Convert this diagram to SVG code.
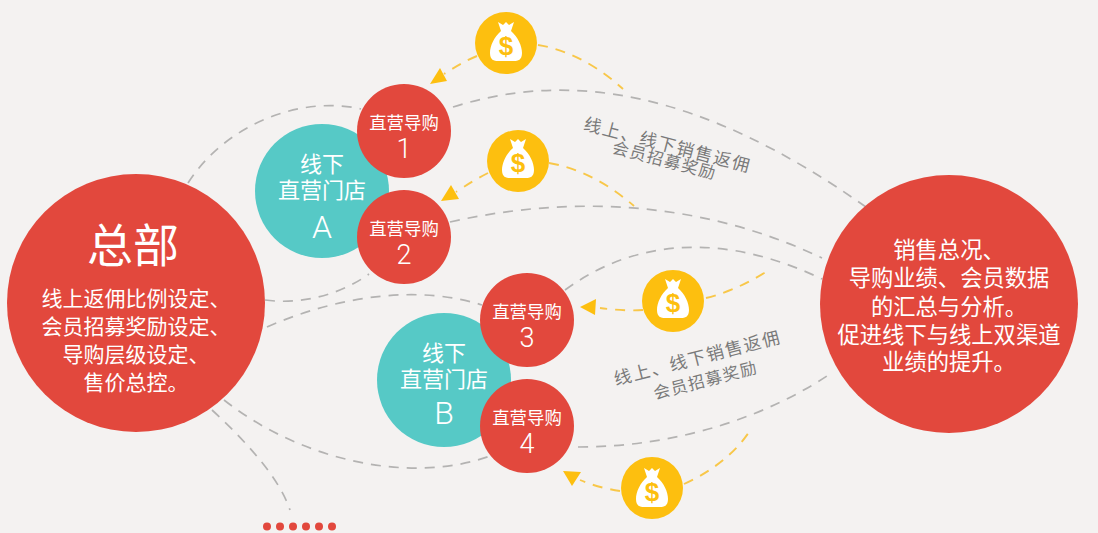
<svg xmlns="http://www.w3.org/2000/svg" xmlns:xlink="http://www.w3.org/1999/xlink" width="1098" height="533" viewBox="0 0 1098 533">
<style>
text{font-family:"Liberation Sans","Noto Sans CJK SC",sans-serif;text-anchor:middle;fill:#fff;font-weight:400}
.red{fill:#e2483d}.teal{fill:#56c9c6}.gold{fill:#fdbf0f}
.g{fill:none;stroke:#b4b3b2;stroke-width:1.7;stroke-dasharray:10 8}
.y{fill:none;stroke:#f8c749;stroke-width:1.9;stroke-dasharray:10 8}
.ah{fill:#fdbf0f}
.s{font-size:17.4px}.t{font-size:22px}.b{font-size:21px}.r{font-size:22.3px}
.n{font-family:Roboto,sans-serif;font-weight:300;font-size:27px}
.l{font-family:Roboto,sans-serif;font-weight:300;font-size:32px}
.rot1{fill:#7a7a7a;font-size:17.5px;letter-spacing:1.6px}
.rot2{fill:#7a7a7a;font-size:16.5px;letter-spacing:1.3px}
.usd{fill:#fdbf0f;font-family:"Liberation Sans",sans-serif;font-weight:700;font-size:26px}
</style>
<defs>
<g id="bag">
<path fill="#fff" d="M-8,-20 L-3,-17 L0,-20 L3,-17 L8,-20 L5,-11 C12,-5 16,4 16,11 C16,18 12,19 8,19 L-8,19 C-12,19 -16,18 -16,11 C-16,4 -12,-5 -5,-11 Z"/>
<text class="usd" x="0" y="13">$</text>
</g>
</defs>
<rect width="1098" height="533" fill="#f4f2f1"/>
<g id="connectors">
<path class="g" d="M188,183 C225,125 300,95 361,109"/>
<path class="g" d="M453,107 C570,70 700,90 866,207"/>
<path class="g" d="M450,222 C570,195 700,200 822,258"/>
<path class="g" d="M565,290 C640,235 730,235 822,279"/>
<path class="g" d="M265,300 C300,305 340,295 369,274"/>
<path class="g" d="M267,327 C340,295 420,285 482,305"/>
<path class="g" d="M224,400 C300,460 410,485 490,456"/>
<path class="g" d="M212,410 C250,445 280,480 290,510"/>
<path class="g" d="M578,447 C680,447 770,415 833,372"/>
<path class="y" d="M477,56 C465,61 455,67 444,74"/>
<path class="y" d="M538,45 C570,50 600,68 623,89"/>
<path class="y" d="M488,173 C478,178 468,184 456,192"/>
<path class="y" d="M549,163 C580,168 610,185 634,206"/>
<path class="y" d="M643,310 C630,311 615,310 600,308"/>
<path class="y" d="M706,298 C730,292 750,282 769,270"/>
<path class="y" d="M620,491 C607,489 594,486 580,480"/>
<path class="y" d="M684,484 C715,470 738,450 751,429"/>
<polygon class="ah" points="430,84 440,68 447,81"/>
<polygon class="ah" points="441,201 451,185 459,199"/>
<polygon class="ah" points="580,307 596,299 595,315"/>
<polygon class="ah" points="563,471 581,472 572,486"/>
</g>
<g id="store-a"><circle class="teal" cx="322" cy="191" r="67"/><text class="t" x="322" y="172">线下</text><text class="t" x="322" y="198">直营门店</text><text class="l" x="322" y="238">A</text></g>
<g id="store-b"><circle class="teal" cx="444" cy="380" r="67"/><text class="t" x="444" y="361">线下</text><text class="t" x="444" y="387">直营门店</text><text class="l" x="444" y="424">B</text></g>
<g id="hq"><circle class="red" cx="136" cy="303" r="129"/>
<text x="133" y="262" font-size="46">总部</text>
<text class="b" x="136" y="306">线上返佣比例设定、</text>
<text class="b" x="136" y="334">会员招募奖励设定、</text>
<text class="b" x="136" y="362">导购层级设定、</text>
<text class="b" x="136" y="390">售价总控。</text></g>
<g id="analysis"><circle class="red" cx="949" cy="304" r="129"/>
<text class="r" x="949" y="258">销售总况、</text>
<text class="r" x="949" y="286">导购业绩、会员数据</text>
<text class="r" x="949" y="315">的汇总与分析。</text>
<text class="r" x="949" y="343">促进线下与线上双渠道</text>
<text class="r" x="949" y="370">业绩的提升。</text></g>
<g id="guide-1"><circle class="red" cx="404" cy="131" r="47"/><text class="s" x="404" y="129">直营导购</text><text class="n" x="404" y="158">1</text></g>
<g id="guide-2"><circle class="red" cx="404" cy="237" r="47"/><text class="s" x="404" y="235">直营导购</text><text class="n" x="404" y="264">2</text></g>
<g id="guide-3"><circle class="red" cx="527" cy="320" r="47"/><text class="s" x="527" y="318">直营导购</text><text class="n" x="527" y="347">3</text></g>
<g id="guide-4"><circle class="red" cx="527" cy="426" r="47"/><text class="s" x="527" y="424">直营导购</text><text class="n" x="527" y="453">4</text></g>
<g id="coin-1"><circle class="gold" cx="506" cy="43" r="31"/><use xlink:href="#bag" x="506" y="42"/></g>
<g id="coin-2"><circle class="gold" cx="518" cy="161" r="31"/><use xlink:href="#bag" x="518" y="159"/></g>
<g id="coin-3"><circle class="gold" cx="673" cy="301" r="31"/><use xlink:href="#bag" x="673" y="299"/></g>
<g id="coin-4"><circle class="gold" cx="652" cy="488" r="31"/><use xlink:href="#bag" x="652" y="488"/></g>
<g id="label-top">
<text class="rot1" transform="translate(666,151) rotate(14.5)">线上、线下销售返佣</text>
<text class="rot2" transform="translate(663,166) rotate(14.5)">会员招募奖励</text></g>
<g id="label-bottom">
<text class="rot1" transform="translate(699,364) rotate(-14.5)">线上、线下销售返佣</text>
<text class="rot2" transform="translate(707,386) rotate(-14.5)">会员招募奖励</text></g>
<g id="dots" class="red"><circle cx="267" cy="526.5" r="4"/><circle cx="280" cy="526.5" r="4"/><circle cx="293" cy="526.5" r="4"/><circle cx="306" cy="526.5" r="4"/><circle cx="319" cy="526.5" r="4"/><circle cx="332" cy="526.5" r="4"/></g>
</svg>
